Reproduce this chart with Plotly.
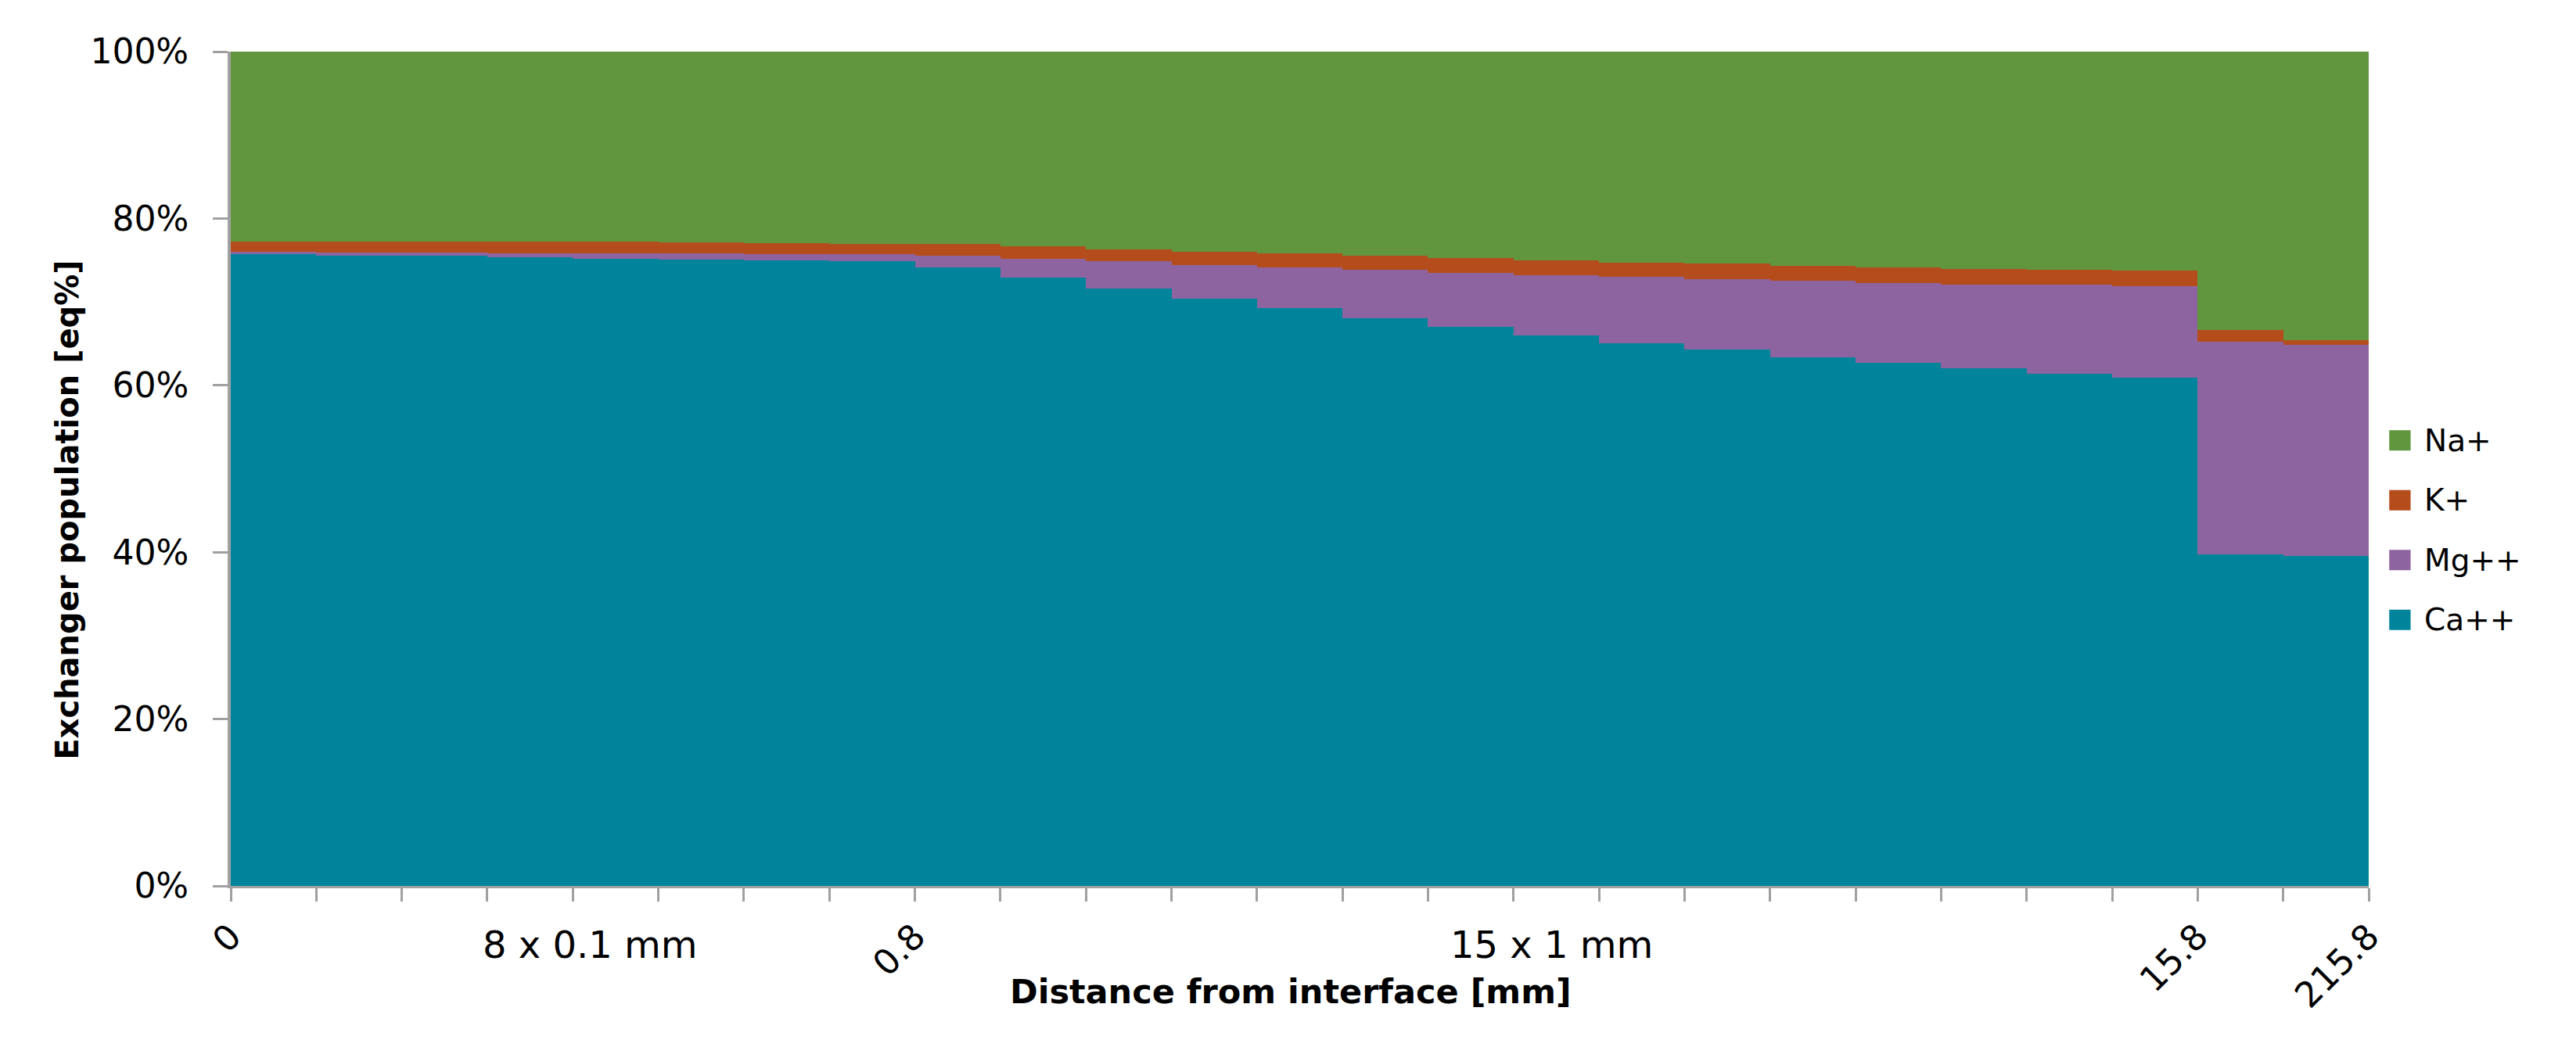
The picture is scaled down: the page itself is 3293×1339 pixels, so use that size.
import plotly.graph_objects as go

# exchanger population per layer [eq%], 8 x 0.1 mm, 15 x 1 mm, 2 x 100 mm
ca = [75.72, 75.56, 75.51, 75.35, 75.19, 75.10, 74.95, 74.88, 74.13, 72.88, 71.60, 70.38, 69.23,
      68.06, 67.00, 65.94, 65.04, 64.26, 63.38, 62.69, 62.06, 61.42, 60.94, 39.75, 39.56]
mg = [0.26, 0.32, 0.37, 0.45, 0.59, 0.69, 0.77, 0.82, 1.38, 2.31, 3.25, 4.06, 4.87,
      5.79, 6.47, 7.28, 7.94, 8.49, 9.13, 9.59, 10.01, 10.62, 10.96, 25.45, 25.31]
k = [1.27, 1.37, 1.34, 1.42, 1.44, 1.34, 1.35, 1.27, 1.43, 1.47, 1.46, 1.59, 1.69,
     1.66, 1.79, 1.78, 1.74, 1.82, 1.81, 1.85, 1.87, 1.82, 1.82, 1.48, 0.57]
na = [22.75, 22.75, 22.78, 22.78, 22.78, 22.87, 22.93, 23.03, 23.06, 23.34, 23.69, 23.97, 24.21,
      24.49, 24.74, 25.00, 25.28, 25.43, 25.68, 25.87, 26.06, 26.14, 26.28, 33.32, 34.56]

series_names = ['Ca++', 'Mg++', 'K+', 'Na+']
series_colors = ['#00849C', '#8E64A0', '#B54C1B', '#61963F']

# labels at layer boundaries (only some are shown)
boundary_labels = ['0', '', '', '', '', '', '', '', '0.8', '', '', '', '', '', '', '', '', '', '', '', '',
                   '', '', '15.8', '', '215.8']
group_labels = ['8 x 0.1 mm', '15 x 1 mm']
group_centers = [4.2, 15.45]

y_ticks = [0, 20, 40, 60, 80, 100]
y_ticktext = ['0%', '20%', '40%', '60%', '80%', '100%']

n = len(ca)
xc = [i + 0.5 for i in range(n)]

fig = go.Figure()
for name, vals, col in zip(series_names, [ca, mg, k, na], series_colors):
    fig.add_trace(go.Bar(x=xc, y=vals, width=1, name=name, marker=dict(color=col, line=dict(width=0)),
                         showlegend=False))

font_main = 'DejaVu Sans'
grey = '#A0A0A0'

# page has an 8px body margin, so margins are shifted to compensate
fig.update_layout(
    width=3293, height=1339,
    margin=dict(l=287, r=273, t=58, b=214),
    barmode='stack', bargap=0,
    plot_bgcolor='white', paper_bgcolor='white',
    font=dict(family=font_main, size=42, color='black'),
    xaxis=dict(range=[0, n], tickmode='array', tickvals=list(range(n + 1)), ticktext=boundary_labels,
               tickangle=-45, ticks='outside', ticklen=17, tickwidth=3, tickcolor=grey,
               showline=True, linecolor=grey, linewidth=3, showgrid=False, zeroline=False,
               tickfont=dict(size=45)),
    yaxis=dict(range=[0, 100], tickmode='array', tickvals=y_ticks, ticktext=y_ticktext,
               ticks='outside', ticklen=19, tickwidth=3, tickcolor=grey,
               showline=True, linecolor=grey, linewidth=4, showgrid=False, zeroline=False,
               ticklabelstandoff=22, tickfont=dict(size=44)),
)

# axis titles and group labels
fig.add_annotation(text='<b>Distance from interface [mm]</b>', xref='paper', yref='paper',
                   x=0.4958, y=-0.1265, xanchor='center', yanchor='middle', showarrow=False,
                   font=dict(size=43))
fig.add_annotation(text='<b>Exchanger population [eq%]</b>', xref='paper', yref='paper',
                   x=-0.0765, y=0.451, xanchor='center', yanchor='middle', showarrow=False,
                   textangle=-90, font=dict(size=40))
for lab, cx in zip(group_labels, group_centers):
    fig.add_annotation(text=lab, x=cx, xref='x', yref='paper', y=-0.0703, xanchor='center',
                       yanchor='middle', showarrow=False, font=dict(size=48))

# legend (top to bottom: Na+, K+, Mg++, Ca++)
leg_x, leg_top, leg_step = 1.0146, 0.534, 0.0717
for i, (name, col) in enumerate(zip(series_names[::-1], series_colors[::-1])):
    yy = leg_top - i * leg_step
    fig.add_shape(type='rect', xref='paper', yref='paper', x0=leg_x - 0.005, x1=leg_x + 0.005,
                  y0=yy - 0.0122, y1=yy + 0.0122, fillcolor=col, line=dict(width=0))
    fig.add_annotation(text=name, xref='paper', yref='paper', x=leg_x + 0.0107, y=yy,
                       xanchor='left', yanchor='middle', showarrow=False, font=dict(size=39))

fig.write_html('out.html')
